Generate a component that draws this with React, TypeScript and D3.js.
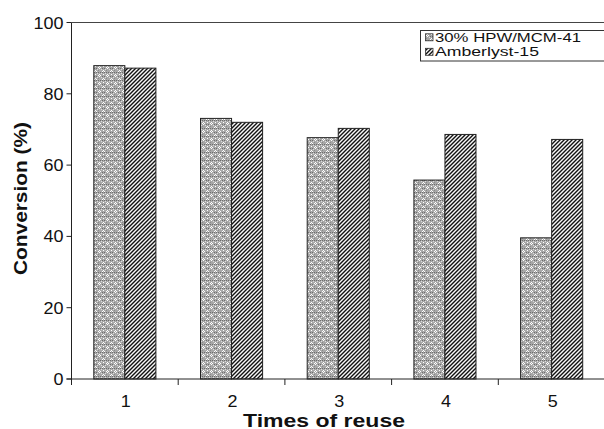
import React from "react";
import * as d3 from "d3";

const categories = ["1", "2", "3", "4", "5"];
const seriesNames = ["30% HPW/MCM-41", "Amberlyst-15"];
const hpwValues = [87.9, 73.1, 67.7, 55.8, 39.6];
const amberlystValues = [87.2, 72.0, 70.3, 68.6, 67.2];
const yTicks = [0, 20, 40, 60, 80, 100];

const W = 604;
const H = 429;
const left = 71.5;
const right = 605;
const top = 22.5;
const bottom = 379;

export default function App() {
  const x0 = d3.scaleBand<string>().domain(categories).range([left, right]).padding(0);
  const bw = x0.bandwidth();
  const x1 = d3.scaleBand<string>().domain(seriesNames).range([bw * 0.209, bw * 0.791]).padding(0);
  const y = d3.scaleLinear().domain([0, 100]).range([bottom, top]);
  const fills = ["url(#patA)", "url(#patB)"];
  const series = [hpwValues, amberlystValues];
  const font = "'Liberation Sans', Arial, sans-serif";
  const legendLens = [146, 104];

  return (
    <svg width={W} height={H} style={{ position: "absolute", left: 0, top: 0, background: "#fff" }} fontFamily={font}>
      <defs>
        <pattern id="patA" patternUnits="userSpaceOnUse" width="8" height="8">
          <rect width="8" height="8" fill="#a8a8a8" />
          <rect x="0" y="0" width="1" height="1" fill="#6e6e6e" />
          <rect x="2" y="0" width="1" height="1" fill="#6e6e6e" />
          <rect x="4" y="0" width="1" height="1" fill="#6e6e6e" />
          <rect x="6" y="0" width="1" height="1" fill="#6e6e6e" />
          <rect x="1" y="1" width="1" height="1" fill="#dcdcdc" />
          <rect x="5" y="1" width="1" height="1" fill="#dcdcdc" />
          <rect x="3" y="2" width="1" height="1" fill="#ffffff" />
          <rect x="7" y="2" width="1" height="1" fill="#ffffff" />
          <rect x="2" y="3" width="1" height="1" fill="#ffffff" />
          <rect x="4" y="3" width="1" height="1" fill="#ffffff" />
          <rect x="3" y="4" width="1" height="1" fill="#ffffff" />
          <rect x="0" y="4" width="1" height="1" fill="#6e6e6e" />
          <rect x="6" y="4" width="1" height="1" fill="#6e6e6e" />
          <rect x="1" y="5" width="1" height="1" fill="#dcdcdc" />
          <rect x="5" y="5" width="1" height="1" fill="#dcdcdc" />
          <rect x="7" y="6" width="1" height="1" fill="#ffffff" />
          <rect x="0" y="7" width="1" height="1" fill="#ffffff" />
          <rect x="6" y="7" width="1" height="1" fill="#ffffff" />
          <rect x="2" y="6" width="1" height="1" fill="#8a8a8a" />
        </pattern>
        <pattern id="patB" patternUnits="userSpaceOnUse" width="4" height="4">
          <rect width="4" height="4" fill="#f8f8f8" />
          <path d="M-1,1 l2,-2 M0,4 l4,-4 M3,5 l2,-2" stroke="#111" strokeWidth="1.4" />
        </pattern>
      </defs>

      {/* frame */}
      <line x1={left} x2={right} y1={top} y2={top} stroke="#444" strokeWidth={1} />
      <line x1={left} x2={left} y1={top} y2={bottom} stroke="#222" strokeWidth={1} />

      {/* bars */}
      {categories.map((c, i) => (
        <g key={c}>
          {seriesNames.map((s, j) => {
            const v = series[j][i];
            const bx = (x0(c) as number) + (x1(s) as number);
            return (
              <rect key={s} x={bx} y={y(v)} width={x1.bandwidth()} height={bottom - y(v)}
                fill={fills[j]} stroke="#222" strokeWidth={1} />
            );
          })}
        </g>
      ))}

      {/* x axis */}
      <line x1={left - 5} x2={right} y1={bottom} y2={bottom} stroke="#222" strokeWidth={1} />
      {categories.map((c) => (
        <g key={c}>
          <line x1={x0(c) as number} x2={x0(c) as number} y1={bottom} y2={bottom + 6} stroke="#222" />
          <text x={(x0(c) as number) + bw / 2 + 1} y={406.7} textAnchor="middle" fontSize={16.8}
            textLength={10} lengthAdjust="spacingAndGlyphs" fill="#111">{c}</text>
        </g>
      ))}

      {/* y axis */}
      {yTicks.map((t) => (
        <g key={t}>
          <line x1={left - 5} x2={left} y1={y(t)} y2={y(t)} stroke="#222" />
          <text x={left - 8} y={y(t) + 6} textAnchor="end" fontSize={17}
            textLength={String(t).length * 10} lengthAdjust="spacingAndGlyphs" fill="#111">{t}</text>
        </g>
      ))}

      <text transform={`translate(27,198.5) rotate(-90)`} textAnchor="middle"
        fontSize={18.5} fontWeight="bold" textLength={153} lengthAdjust="spacingAndGlyphs" fill="#111">Conversion (%)</text>
      <text x={324} y={426.5} textAnchor="middle" fontSize={17.5} fontWeight="bold"
        textLength={162} lengthAdjust="spacingAndGlyphs" fill="#111">Times of reuse</text>

      {/* legend */}
      <rect x={420.5} y={30.5} width={200} height={30.5} fill="#fff" stroke="#333" strokeWidth={1} />
      {seriesNames.map((s, j) => (
        <g key={s}>
          <rect x={425.5} y={33.8 + j * 14.5} width={7.5} height={7} fill={fills[j]} stroke="#333" strokeWidth={0.8} />
          <text x={435} y={41.8 + j * 14.5} fontSize={12.5} textLength={legendLens[j]}
            lengthAdjust="spacingAndGlyphs" fill="#111">{s}</text>
        </g>
      ))}
    </svg>
  );
}
